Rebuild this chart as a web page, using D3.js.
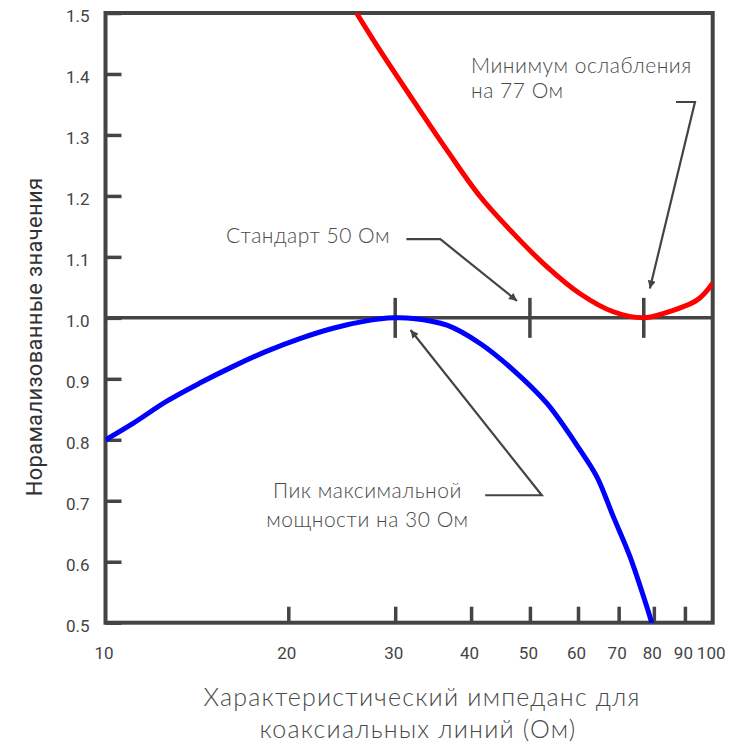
<!DOCTYPE html>
<html>
<head>
<meta charset="utf-8">
<script src="https://cdn.jsdelivr.net/npm/d3@7"></script>
<style>
  html, body { margin: 0; padding: 0; background: #fff; }
  svg { display: block; }
  .tick text { font-family: Roboto, "Noto Sans", sans-serif; font-size: 17px; fill: #444; }
  .note { font-family: Lato, "Open Sans", sans-serif; font-weight: 300; font-size: 21px; letter-spacing: 0.5px; fill: #4a4a4a; }
  .title { font-family: Lato, "Open Sans", sans-serif; font-weight: 300; font-size: 25px; letter-spacing: 1.2px; fill: #4a4a4a; }
  .ytitle { font-family: Roboto, "Noto Sans", sans-serif; font-size: 22px; letter-spacing: 0.3px; fill: #333; }
</style>
</head>
<body>
<svg id="chart" width="733" height="746"></svg>
<script>
// Axis ticks
const xTicks = [10, 20, 30, 40, 50, 60, 70, 80, 90, 100];
const yTicks = [0.5, 0.6, 0.7, 0.8, 0.9, 1.0, 1.1, 1.2, 1.3, 1.4, 1.5];

// Normalised power-handling curve (blue): impedance (Ohm) vs value
const powerZ = [10, 11.1, 12.6, 14.3, 16.2, 18.4, 20.9, 23.7, 26.9, 29.8, 32.1, 36.5, 41.4, 47.0, 53.3, 60.5, 64.4, 68.6, 73.1, 77.9, 79.5];
const powerV = [0.800, 0.827, 0.863, 0.893, 0.920, 0.945, 0.966, 0.983, 0.995, 1.000, 0.999, 0.988, 0.958, 0.914, 0.860, 0.783, 0.740, 0.674, 0.608, 0.526, 0.497];

// Normalised attenuation curve (red)
const lossZ = [25.9, 28.3, 32.1, 36.5, 41.4, 46.9, 53.3, 60.4, 68.6, 77, 82.8, 94.2, 100];
const lossV = [1.500, 1.439, 1.357, 1.275, 1.199, 1.139, 1.084, 1.040, 1.010, 1.000, 1.007, 1.029, 1.057];

// Reference impedances marked on the 1.0 line
const markZ = [30, 50, 77];

// Callouts: text lines and leader path (impedance, value)
const notes = [
  { lines: ["Минимум ослабления", "на 77 Ом"], anchor: "start", at: [40, 1.401], lead: 0.041,
    path: [[87.0, 1.354], [93.5, 1.354], [78.8, 1.048]] },
  { lines: ["Стандарт 50 Ом"], anchor: "start", at: [15.8, 1.122], lead: 0,
    path: [[31.3, 1.129], [35.6, 1.129], [47.6, 1.028]] },
  { lines: ["Пик максимальной", "мощности на 30 Ом"], anchor: "middle", at: [27.0, 0.704], lead: 0.047,
    path: [[42.2, 0.709], [52.3, 0.709], [31.8, 0.980]] }
];

const svg = d3.select("#chart");
const margin = { left: 105.5, right: 20.3, top: 13, bottom: 123.3 };
const W = 733, H = 746;
const x = d3.scaleLog().domain([10, 100]).range([margin.left, W - margin.right]);
const y = d3.scaleLinear().domain([0.5, 1.5]).range([H - margin.bottom, margin.top]);
const axisColor = "#444";

svg.append("defs").append("clipPath").attr("id", "plot")
  .append("rect")
  .attr("x", x(10)).attr("y", y(1.5))
  .attr("width", x(100) - x(10)).attr("height", y(0.5) - y(1.5));

svg.append("defs").append("marker")
  .attr("id", "arrow").attr("viewBox", "0 0 10 10")
  .attr("refX", 10).attr("refY", 5)
  .attr("markerWidth", 8).attr("markerHeight", 8)
  .attr("markerUnits", "userSpaceOnUse")
  .attr("orient", "auto")
  .append("path").attr("d", "M0,0 L10,5 L0,10 Z").attr("fill", axisColor);

// Y axis with inward ticks
const yAxis = svg.append("g")
  .attr("transform", `translate(${x(10)},0)`)
  .call(d3.axisLeft(y).tickValues(yTicks).tickFormat(d3.format(".1f"))
    .tickSizeInner(-16).tickSizeOuter(0).tickPadding(16));
yAxis.select(".domain").remove();
yAxis.selectAll(".tick line").attr("stroke", axisColor).attr("stroke-width", 3.5);
yAxis.selectAll(".tick text").attr("dy", "0.5em");

// X axis with inward ticks
const xAxis = svg.append("g")
  .attr("transform", `translate(0,${y(0.5)})`)
  .call(d3.axisBottom(x).tickValues(xTicks).tickFormat(d3.format("d"))
    .tickSizeInner(-16).tickSizeOuter(0).tickPadding(24));
xAxis.select(".domain").remove();
xAxis.selectAll(".tick line").attr("stroke", axisColor).attr("stroke-width", 3.5)
  .filter(d => d === 10 || d === 100).remove();
xAxis.selectAll(".tick text").attr("dx", "-2");

// Frame
svg.append("rect")
  .attr("x", x(10)).attr("y", y(1.5))
  .attr("width", x(100) - x(10)).attr("height", y(0.5) - y(1.5))
  .attr("fill", "none").attr("stroke", axisColor).attr("stroke-width", 4);

// Reference line at 1.0 with impedance marks
svg.append("line")
  .attr("x1", x(10)).attr("x2", x(100))
  .attr("y1", y(1.0)).attr("y2", y(1.0))
  .attr("stroke", axisColor).attr("stroke-width", 3.5);
svg.selectAll(".mark").data(markZ).join("line")
  .attr("class", "mark")
  .attr("x1", d => x(d)).attr("x2", d => x(d))
  .attr("y1", y(1.0) - 20).attr("y2", y(1.0) + 20)
  .attr("stroke", axisColor).attr("stroke-width", 3.5);

// Curves
const line = d3.line().x(d => x(d[0])).y(d => y(d[1])).curve(d3.curveCatmullRom.alpha(0.5));
const curves = svg.append("g").attr("clip-path", "url(#plot)");
curves.append("path").datum(d3.zip(lossZ, lossV))
  .attr("d", line).attr("fill", "none").attr("stroke", "#ff0000").attr("stroke-width", 5);
curves.append("path").datum(d3.zip(powerZ, powerV))
  .attr("d", line).attr("fill", "none").attr("stroke", "#0000ff").attr("stroke-width", 5);

// Callouts
notes.forEach(n => {
  const t = svg.append("text").attr("class", "note").attr("text-anchor", n.anchor);
  n.lines.forEach((s, i) => {
    t.append("tspan").attr("x", x(n.at[0])).attr("y", y(n.at[1] - i * n.lead)).text(s);
  });
  svg.append("path")
    .attr("d", d3.line().x(d => x(d[0])).y(d => y(d[1]))(n.path))
    .attr("fill", "none").attr("stroke", axisColor).attr("stroke-width", 2.2)
    .attr("marker-end", "url(#arrow)");
});

// Axis titles
svg.append("text").attr("class", "title").attr("text-anchor", "middle")
  .attr("x", 422).attr("y", 706)
  .text("Характеристический импеданс для");
svg.append("text").attr("class", "title").attr("text-anchor", "middle")
  .attr("x", 418).attr("y", 738)
  .text("коаксиальных линий (Ом)");
svg.append("text").attr("class", "ytitle").attr("text-anchor", "middle")
  .attr("transform", "translate(42,337) rotate(-90)")
  .text("Норамализованные значения");
</script>
</body>
</html>
